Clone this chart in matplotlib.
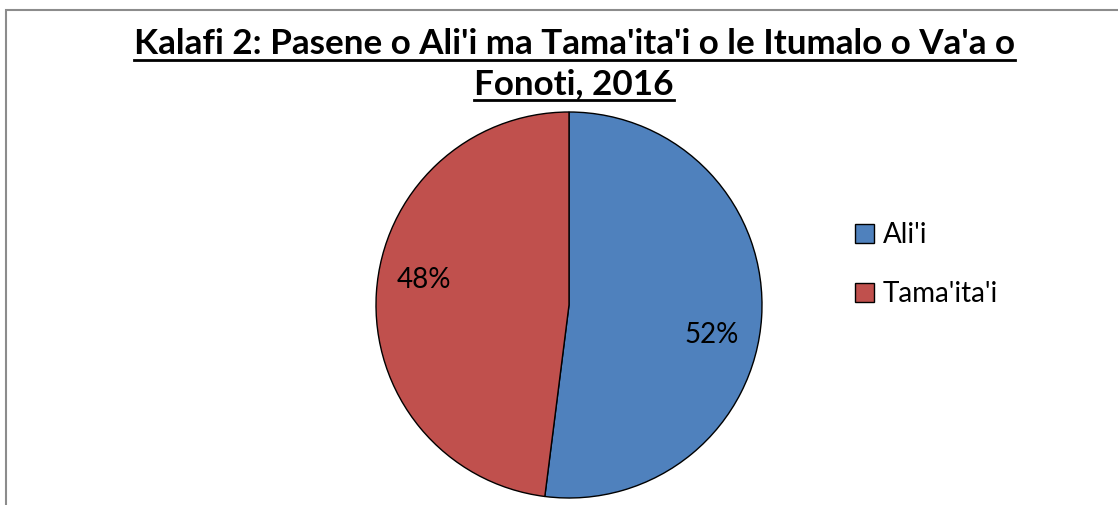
import matplotlib
matplotlib.use("Agg")
import matplotlib.pyplot as plt
from matplotlib.patches import Rectangle
from matplotlib.lines import Line2D

categories = ["Ali'i", "Tama'ita'i"]
values = [52, 48]
colors = ["#4F81BD", "#C0504D"]
title_lines = ["Kalafi 2: Pasene o Ali'i ma Tama'ita'i o le Itumalo o Va'a o", "Fonoti, 2016"]

FONT = "Lato"
W, H = 1118, 505
fig = plt.figure(figsize=(W / 100, H / 100), dpi=100)

# chart-area frame (extends past right/bottom edges)
fig.patches.append(Rectangle((6 / W, -0.1), 1.2, (H - 10) / H + 0.1, transform=fig.transFigure,
                             fill=False, edgecolor="#8c8c8c", linewidth=1.5))

cx, cy, r = 569, 305, 193
ax = fig.add_axes([(cx - r) / W, (H - cy - r) / H, 2 * r / W, 2 * r / H])
wedges, texts = ax.pie(values, colors=colors, startangle=90, counterclock=False,
                       wedgeprops=dict(edgecolor="black", linewidth=1.0), radius=1.0)
ax.set_xlim(-1, 1)
ax.set_ylim(-1, 1)
ax.set_aspect("equal")
ax.axis("off")

total = sum(values)
label_pos = [(0.741, -0.153), (-0.751, 0.13)]
for v, (x, y) in zip(values, label_pos):
    ax.text(x, y, f"{round(100 * v / total)}%", ha="center", va="center",
            fontsize=20, family=FONT, color="black")

# title with underline
fig.canvas.draw()
renderer = fig.canvas.get_renderer()
title_y = [44, 84]
for line, ty in zip(title_lines, title_y):
    t = fig.text(574 / W, 1 - ty / H, line, ha="center", va="center", fontsize=25.2,
                 fontweight="bold", family=FONT, color="black")
    bb = t.get_window_extent(renderer)
    uy = 1 - (ty + 16) / H
    fig.add_artist(Line2D([bb.x0 / W, bb.x1 / W], [uy, uy], transform=fig.transFigure,
                          color="black", linewidth=2))

# legend
leg = fig.legend(wedges, categories, loc="upper left", bbox_to_anchor=(855 / W, 1 - 222 / H),
                 frameon=False, prop=dict(family=FONT, size=20), handlelength=0.7,
                 handleheight=0.7, handletextpad=0.3, labelspacing=1.2, borderaxespad=0,
                 borderpad=0)

fig.savefig("out.png", dpi=100)
